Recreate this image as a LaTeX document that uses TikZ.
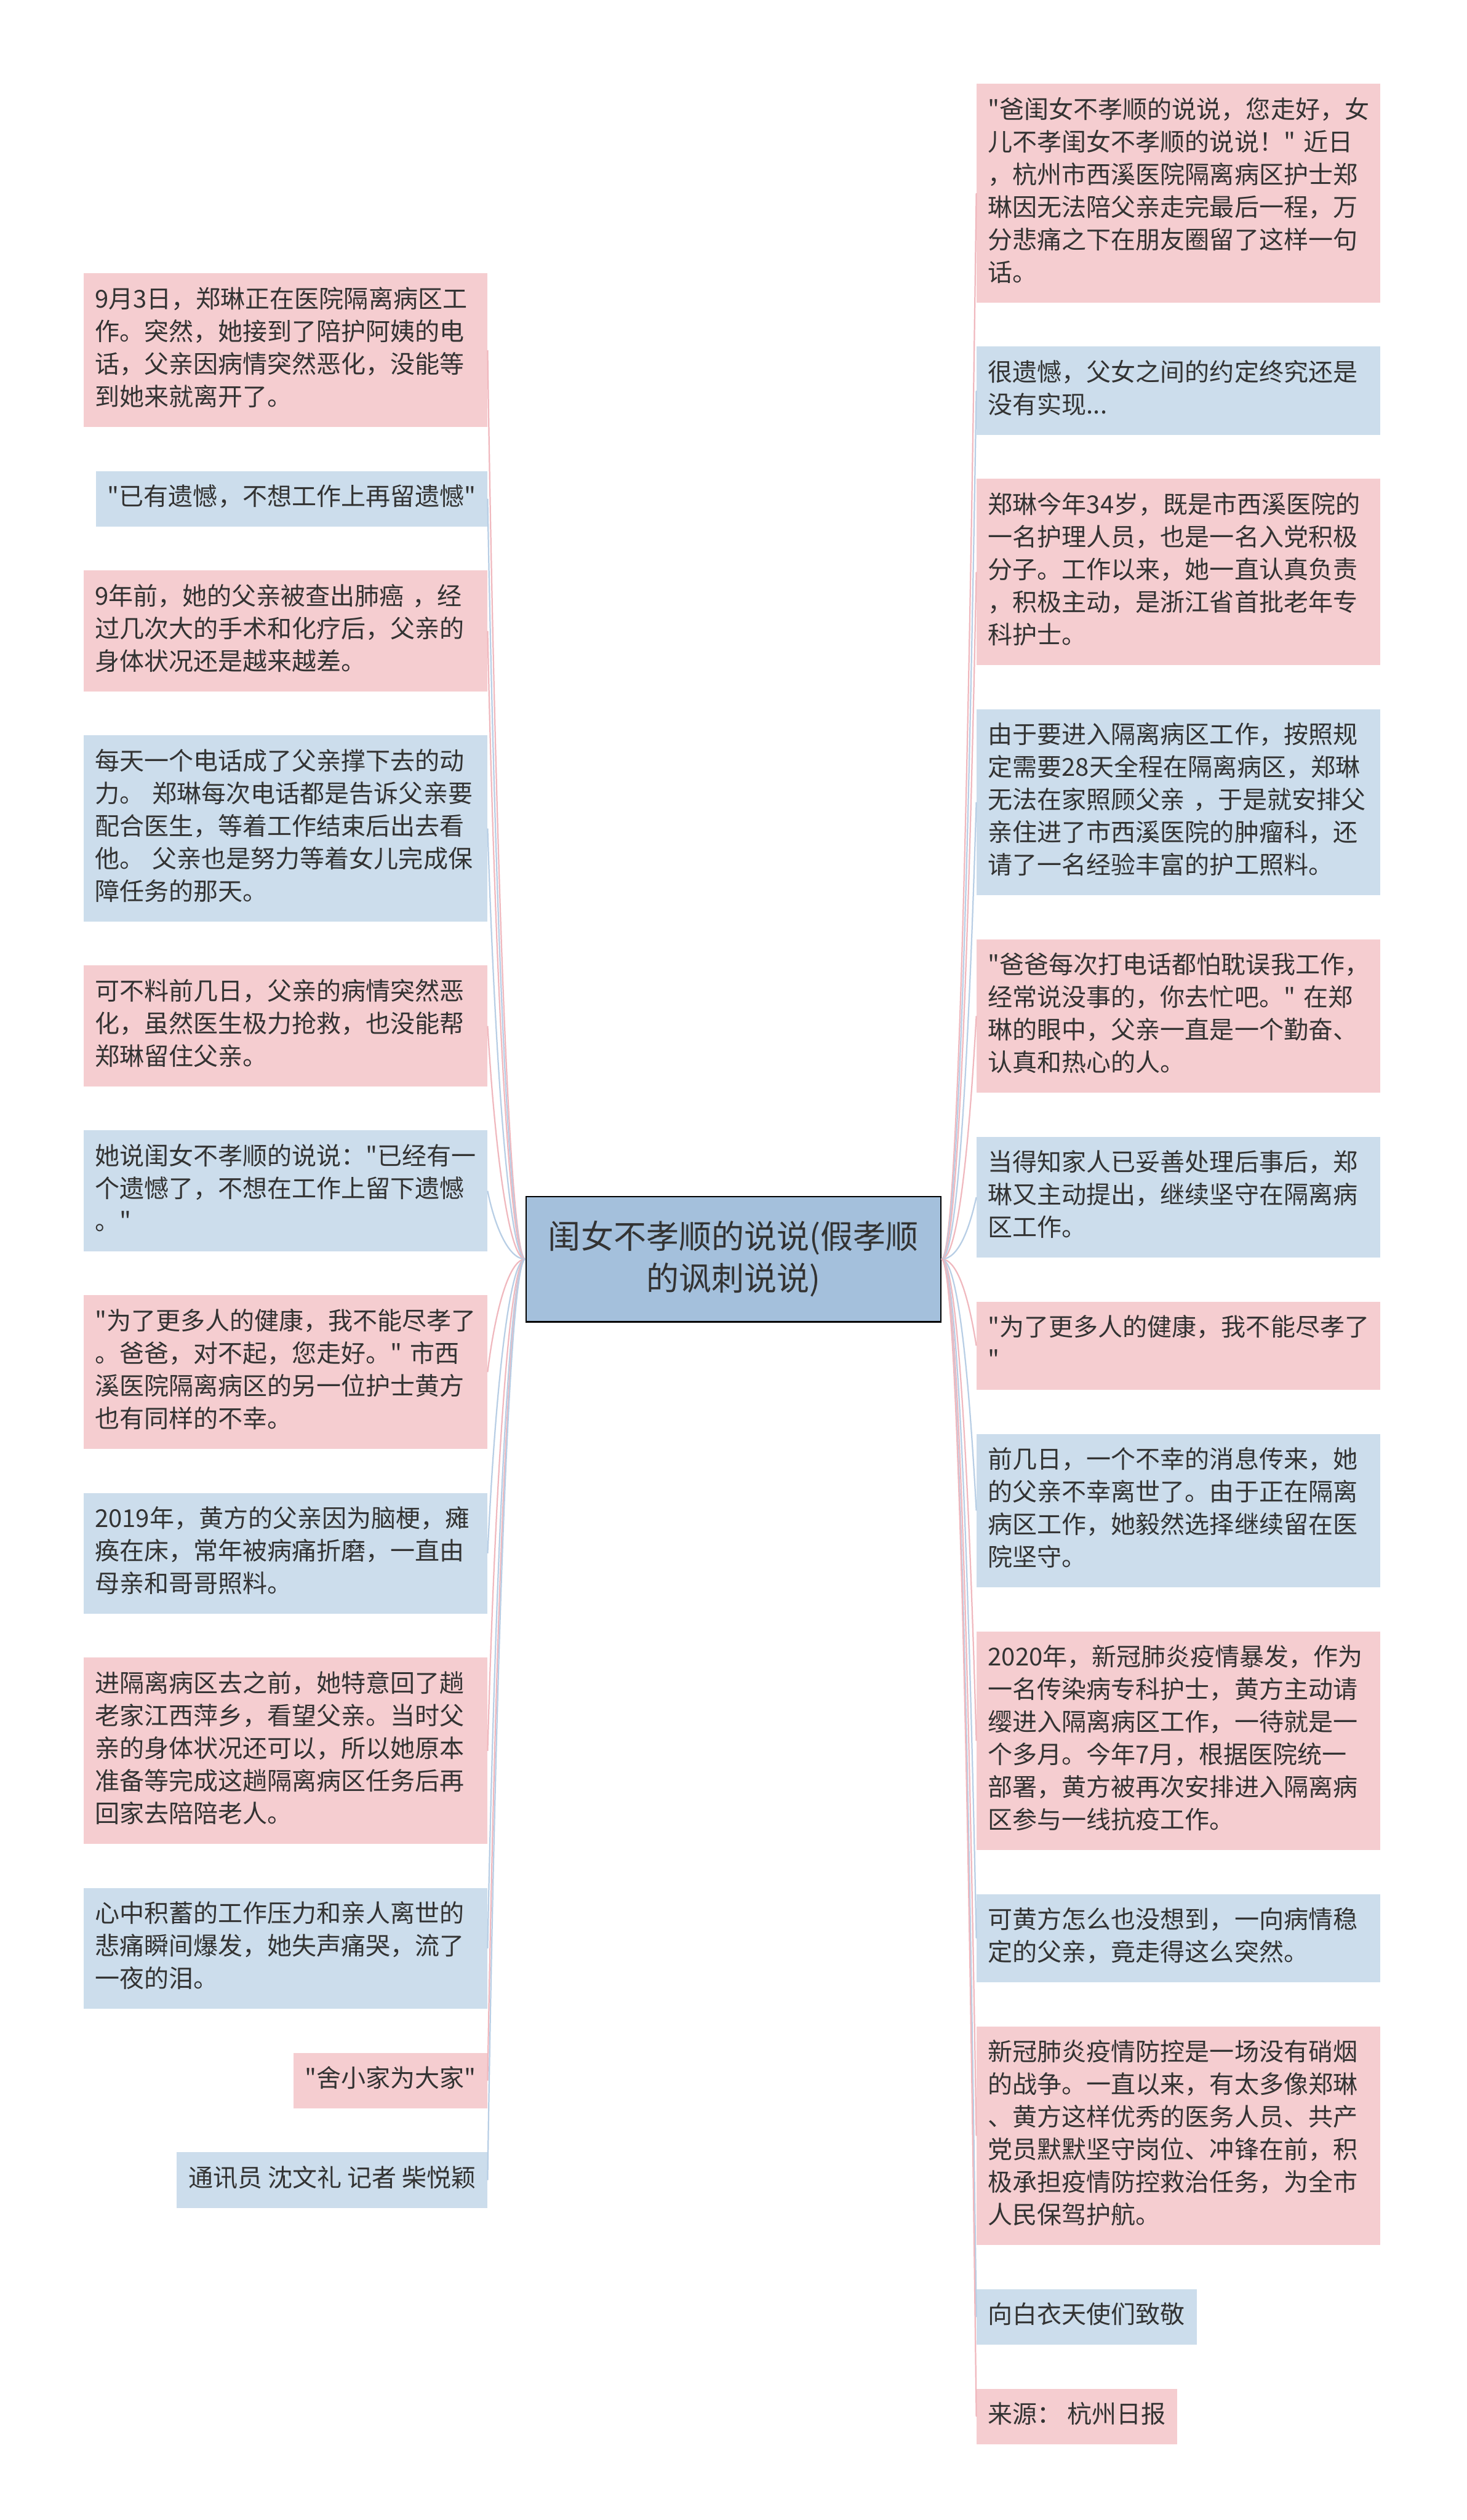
\documentclass[tikz,border=0pt]{standalone}
\usepackage{fontspec}
\newfontfamily\cjkfont{Noto Sans CJK SC}
\usetikzlibrary{positioning, calc}

\definecolor{pinkfill}{RGB}{245,205,208}
\definecolor{bluefill}{RGB}{204,221,236}
\definecolor{rootfill}{RGB}{164,192,220}
\definecolor{pinkedge}{RGB}{240,184,190}
\definecolor{blueedge}{RGB}{184,206,229}
\definecolor{textgray}{RGB}{51,51,51}

\begin{document}
\begin{tikzpicture}[node distance=38pt,
        leaf/.style={rectangle, inner xsep=10pt, inner ysep=10pt, align=left, text=textgray,
            font=\fontsize{21.5pt}{28.5pt}\cjkfont,
            execute at begin node={\noindent\strut}, execute at end node=\strut},
        pinkbox/.style={leaf, fill=pinkfill},
        bluebox/.style={leaf, fill=bluefill},
        wide/.style={text width=332.5pt},
        rootbox/.style={rectangle, draw=black, line width=1.2pt, fill=rootfill, text=textgray,
            minimum width=362pt, minimum height=109.5pt, align=center,
            font=\fontsize{28.5pt}{36.5pt}\cjkfont},
        pinklink/.style={draw=pinkedge, line width=1.2pt},
        bluelink/.style={draw=blueedge, line width=1.2pt},
        leftlink/.style={to path={let \p1=(\tikztostart), \p2=(\tikztotarget) in
            .. controls ($(\p1)+(-15pt,0)$) and ($(\p2)+(6pt,{0.5*(\y1)-0.5*(\y2)})$) .. (\p2)}},
        rightlink/.style={to path={let \p1=(\tikztostart), \p2=(\tikztotarget) in
            .. controls ($(\p1)+(15pt,0)$) and ($(\p2)+(-6pt,{0.5*(\y1)-0.5*(\y2)})$) .. (\p2)}}]

        % page and margins
        \path[use as bounding box, fill=white] (-640pt,1099pt) rectangle (640pt,-1100.5pt);

        %-----Root-----
        \node [rootbox] (root) at (0,0) {闺女不孝顺的说说(假孝顺\\的讽刺说说)};

        %-----Left Branch-----

        % Left 1
        \node [pinkbox, wide, anchor=north east] (l1) at (-214.5pt,860.5pt) {%
            9月3日，郑琳正在医院隔离病区工\\
            作。突然，她接到了陪护阿姨的电\\
            话，父亲因病情突然恶化，没能等\\
            到她来就离开了。};

        % Left 2
        \node [bluebox, below=of l1.south east, anchor=north east] (l2) {"已有遗憾，不想工作上再留遗憾"};

        % Left 3
        \node [pinkbox, wide, below=of l2.south east, anchor=north east] (l3) {%
            9年前，她的父亲被查出肺癌 ，经\\
            过几次大的手术和化疗后，父亲的\\
            身体状况还是越来越差。};

        % Left 4
        \node [bluebox, wide, below=of l3.south east, anchor=north east] (l4) {%
            每天一个电话成了父亲撑下去的动\\
            力。 郑琳每次电话都是告诉父亲要\\
            配合医生，等着工作结束后出去看\\
            他。 父亲也是努力等着女儿完成保\\
            障任务的那天。};

        % Left 5
        \node [pinkbox, wide, below=of l4.south east, anchor=north east] (l5) {%
            可不料前几日，父亲的病情突然恶\\
            化，虽然医生极力抢救，也没能帮\\
            郑琳留住父亲。};

        % Left 6
        \node [bluebox, wide, below=of l5.south east, anchor=north east] (l6) {%
            她说闺女不孝顺的说说："已经有一\\
            个遗憾了，不想在工作上留下遗憾\\
            。"};

        % Left 7
        \node [pinkbox, wide, below=of l6.south east, anchor=north east] (l7) {%
            "为了更多人的健康，我不能尽孝了\\
            。爸爸，对不起，您走好。" 市西\\
            溪医院隔离病区的另一位护士黄方\\
            也有同样的不幸。};

        % Left 8
        \node [bluebox, wide, below=of l7.south east, anchor=north east] (l8) {%
            2019年，黄方的父亲因为脑梗，瘫\\
            痪在床，常年被病痛折磨，一直由\\
            母亲和哥哥照料。};

        % Left 9
        \node [pinkbox, wide, below=of l8.south east, anchor=north east] (l9) {%
            进隔离病区去之前，她特意回了趟\\
            老家江西萍乡，看望父亲。当时父\\
            亲的身体状况还可以，所以她原本\\
            准备等完成这趟隔离病区任务后再\\
            回家去陪陪老人。};

        % Left 10
        \node [bluebox, wide, below=of l9.south east, anchor=north east] (l10) {%
            心中积蓄的工作压力和亲人离世的\\
            悲痛瞬间爆发，她失声痛哭，流了\\
            一夜的泪。};

        % Left 11
        \node [pinkbox, below=of l10.south east, anchor=north east] (l11) {"舍小家为大家"};

        % Left 12
        \node [bluebox, below=of l11.south east, anchor=north east] (l12) {通讯员 沈文礼 记者 柴悦颖};

        %-----Right Branch-----

        % Right 1
        \node [pinkbox, wide, anchor=north west] (r1) at (212pt,1026pt) {%
            "爸闺女不孝顺的说说，您走好，女\\
            儿不孝闺女不孝顺的说说！" 近日\\
            ，杭州市西溪医院隔离病区护士郑\\
            琳因无法陪父亲走完最后一程，万\\
            分悲痛之下在朋友圈留了这样一句\\
            话。};

        % Right 2
        \node [bluebox, wide, below=of r1.south west, anchor=north west] (r2) {%
            很遗憾，父女之间的约定终究还是\\
            没有实现...};

        % Right 3
        \node [pinkbox, wide, below=of r2.south west, anchor=north west] (r3) {%
            郑琳今年34岁，既是市西溪医院的\\
            一名护理人员，也是一名入党积极\\
            分子。工作以来，她一直认真负责\\
            ，积极主动，是浙江省首批老年专\\
            科护士。};

        % Right 4
        \node [bluebox, wide, below=of r3.south west, anchor=north west] (r4) {%
            由于要进入隔离病区工作，按照规\\
            定需要28天全程在隔离病区，郑琳\\
            无法在家照顾父亲 ，于是就安排父\\
            亲住进了市西溪医院的肿瘤科，还\\
            请了一名经验丰富的护工照料。};

        % Right 5
        \node [pinkbox, wide, below=of r4.south west, anchor=north west] (r5) {%
            "爸爸每次打电话都怕耽误我工作，\\
            经常说没事的，你去忙吧。" 在郑\\
            琳的眼中，父亲一直是一个勤奋、\\
            认真和热心的人。};

        % Right 6
        \node [bluebox, wide, below=of r5.south west, anchor=north west] (r6) {%
            当得知家人已妥善处理后事后，郑\\
            琳又主动提出，继续坚守在隔离病\\
            区工作。};

        % Right 7
        \node [pinkbox, wide, below=of r6.south west, anchor=north west] (r7) {%
            "为了更多人的健康，我不能尽孝了\\
            "};

        % Right 8
        \node [bluebox, wide, below=of r7.south west, anchor=north west] (r8) {%
            前几日，一个不幸的消息传来，她\\
            的父亲不幸离世了。由于正在隔离\\
            病区工作，她毅然选择继续留在医\\
            院坚守。};

        % Right 9
        \node [pinkbox, wide, below=of r8.south west, anchor=north west] (r9) {%
            2020年，新冠肺炎疫情暴发，作为\\
            一名传染病专科护士，黄方主动请\\
            缨进入隔离病区工作，一待就是一\\
            个多月。今年7月，根据医院统一\\
            部署，黄方被再次安排进入隔离病\\
            区参与一线抗疫工作。};

        % Right 10
        \node [bluebox, wide, below=of r9.south west, anchor=north west] (r10) {%
            可黄方怎么也没想到，一向病情稳\\
            定的父亲，竟走得这么突然。};

        % Right 11
        \node [pinkbox, wide, below=of r10.south west, anchor=north west] (r11) {%
            新冠肺炎疫情防控是一场没有硝烟\\
            的战争。一直以来，有太多像郑琳\\
            、黄方这样优秀的医务人员、共产\\
            党员默默坚守岗位、冲锋在前，积\\
            极承担疫情防控救治任务，为全市\\
            人民保驾护航。};

        % Right 12
        \node [bluebox, below=of r11.south west, anchor=north west] (r12) {向白衣天使们致敬};

        % Right 13
        \node [pinkbox, below=of r12.south west, anchor=north west] (r13) {来源： 杭州日报};

        %-----Connectors-----

        % Root to left branch
        \draw[pinklink, leftlink] (root.west) to (l1.east);
        \draw[bluelink, leftlink] (root.west) to (l2.east);
        \draw[pinklink, leftlink] (root.west) to (l3.east);
        \draw[bluelink, leftlink] (root.west) to (l4.east);
        \draw[pinklink, leftlink] (root.west) to (l5.east);
        \draw[bluelink, leftlink] (root.west) to (l6.east);
        \draw[pinklink, leftlink] (root.west) to (l7.east);
        \draw[bluelink, leftlink] (root.west) to (l8.east);
        \draw[pinklink, leftlink] (root.west) to (l9.east);
        \draw[bluelink, leftlink] (root.west) to (l10.east);
        \draw[pinklink, leftlink] (root.west) to (l11.east);
        \draw[bluelink, leftlink] (root.west) to (l12.east);

        % Root to right branch
        \draw[pinklink, rightlink] (root.east) to (r1.west);
        \draw[bluelink, rightlink] (root.east) to (r2.west);
        \draw[pinklink, rightlink] (root.east) to (r3.west);
        \draw[bluelink, rightlink] (root.east) to (r4.west);
        \draw[pinklink, rightlink] (root.east) to (r5.west);
        \draw[bluelink, rightlink] (root.east) to (r6.west);
        \draw[pinklink, rightlink] (root.east) to (r7.west);
        \draw[bluelink, rightlink] (root.east) to (r8.west);
        \draw[pinklink, rightlink] (root.east) to (r9.west);
        \draw[bluelink, rightlink] (root.east) to (r10.west);
        \draw[pinklink, rightlink] (root.east) to (r11.west);
        \draw[bluelink, rightlink] (root.east) to (r12.west);
        \draw[pinklink, rightlink] (root.east) to (r13.west);

\end{tikzpicture}
\end{document}
